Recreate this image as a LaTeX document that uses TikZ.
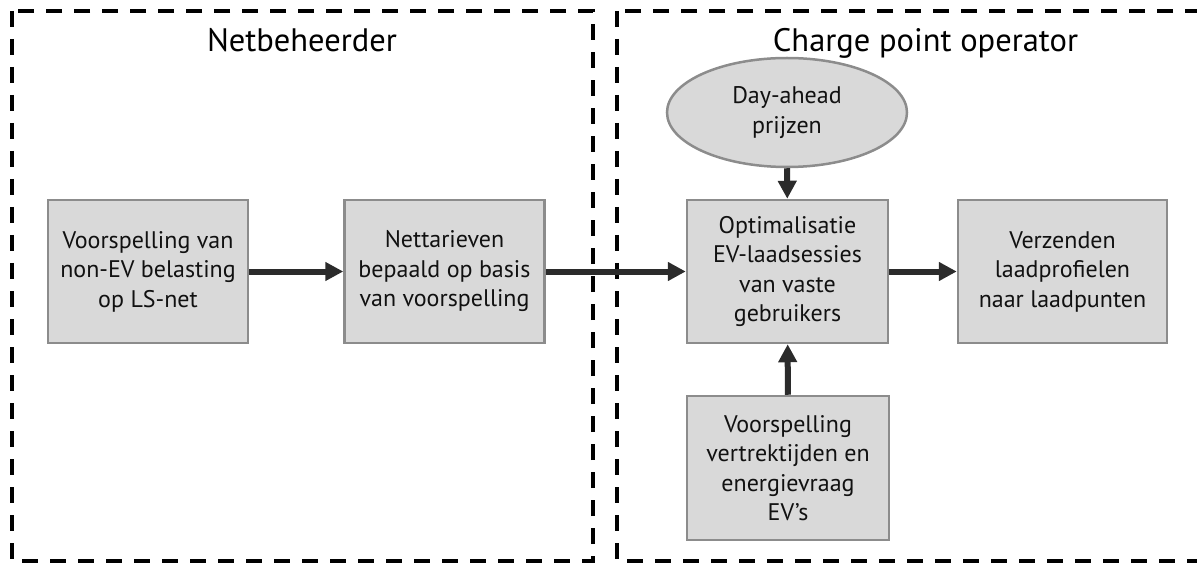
\documentclass[tikz,border=0pt]{standalone}
\usepackage{fontspec}
\setmainfont{PT Sans}
\usetikzlibrary{arrows.meta,shapes.geometric}
\definecolor{boxfill}{HTML}{D9D9D9}
\definecolor{boxline}{HTML}{8C8C8C}
\definecolor{arrowcol}{HTML}{2B2B2B}
\definecolor{textcol}{HTML}{111111}
\begin{document}
\begin{tikzpicture}[x=1pt,y=-1pt,
  group/.style={draw=black,line width=4pt,dash pattern=on 16pt off 12pt},
  title/.style={font=\fontsize{32.5}{38}\selectfont,text=black,anchor=base,inner sep=0pt},
  procbox/.style={draw=boxline,fill=boxfill,line width=2.5pt,align=center,text=textcol,
    font=\fontsize{24}{29.5}\selectfont,minimum height=143pt,inner sep=0pt},
  databox/.style={ellipse,draw=boxline,fill=boxfill,line width=2.5pt,align=center,text=textcol,
    font=\fontsize{24}{29.5}\selectfont,minimum width=240pt,minimum height=109pt,inner sep=0pt},
  flow/.style={draw=arrowcol,line width=6pt,-{Triangle[length=18pt,width=18pt]}}
]
\useasboundingbox (0,0) rectangle (1197,564);
\draw[group] (12,11) rectangle (593,561);
\draw[group] (617,11) rectangle (1199,561);
\node[title] (t1) at (302,52) {Netbeheerder};
\node[title] (t2) at (925.5,52) {Charge point operator};

\node[procbox,minimum width=200pt] (b1) at (148,271.5) {Voorspelling van\\non-EV belasting\\op LS-net};
\node[procbox,minimum width=200pt] (b2) at (444.5,271.5) {Nettarieven\\bepaald op basis\\van voorspelling};
\node[procbox,minimum width=201pt] (b3) at (787.5,271.5) {Optimalisatie\\EV-laadsessies\\van vaste\\gebruikers};
\node[procbox,minimum width=209pt] (b4) at (1062.5,271.5) {Verzenden\\laadprofielen\\naar laadpunten};
\node[procbox,minimum width=202pt,minimum height=144pt] (b5) at (788,468) {Voorspelling\\vertrektijden en\\energievraag\\EV’s};
\node[databox] (e1) at (787,112.5) {Day-ahead\\prijzen};

\draw[flow] (b1) -- (b2);
\draw[flow] (b2) -- (b3);
\draw[flow] (b3) -- (b4);
\draw[flow] (e1) -- (b3);
\draw[flow] (b5) -- (b3);
\end{tikzpicture}
\end{document}
